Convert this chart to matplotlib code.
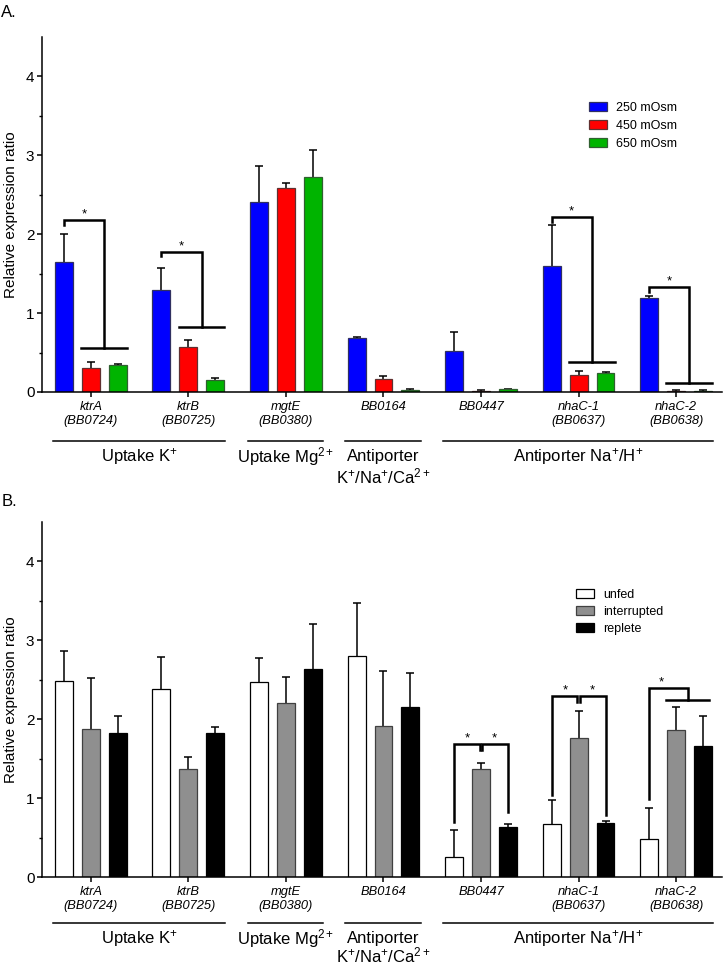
import numpy as np
import matplotlib
matplotlib.use("Agg")
import matplotlib.pyplot as plt

plt.rcParams['font.family'] = ['Liberation Sans', 'DejaVu Sans']
plt.rcParams['mathtext.fontset'] = 'custom'
plt.rcParams['mathtext.rm'] = 'Liberation Sans'
plt.rcParams['mathtext.it'] = 'Liberation Sans:italic'

NARROW = ['Liberation Sans Narrow', 'Liberation Sans', 'DejaVu Sans']

# genes on the x axis
genes = ['ktrA', 'ktrB', 'mgtE', 'BB0164', 'BB0447', 'nhaC-1', 'nhaC-2']
loci = ['(BB0724)', '(BB0725)', '(BB0380)', '', '', '(BB0637)', '(BB0638)']

# functional groups below the gene names (first gene, last gene)
group_names = ['Uptake K$^{+}$', 'Uptake Mg$^{2+}$', 'Antiporter', 'Antiporter Na$^{+}$/H$^{+}$']
group_second_line = ['', '', 'K$^{+}$/Na$^{+}$/Ca$^{2+}$', '']
group_first = [0, 2, 3, 4]
group_last = [1, 2, 3, 6]

# panel A: osmolarity
osm_labels = ['250 mOsm', '450 mOsm', '650 mOsm']
osm_250 = [1.65, 1.29, 2.41, 0.69, 0.52, 1.60, 1.19]
osm_250_err = [0.35, 0.28, 0.45, 0.01, 0.24, 0.51, 0.02]
osm_450 = [0.30, 0.57, 2.58, 0.16, 0.01, 0.21, 0.01]
osm_450_err = [0.08, 0.09, 0.07, 0.04, 0.02, 0.05, 0.01]
osm_650 = [0.34, 0.15, 2.72, 0.03, 0.04, 0.24, 0.01]
osm_650_err = [0.02, 0.03, 0.35, 0.01, 0.00, 0.01, 0.01]

# panel B: feeding state
feed_labels = ['unfed', 'interrupted', 'replete']
unfed = [2.48, 2.38, 2.47, 2.80, 0.25, 0.67, 0.48]
unfed_err = [0.38, 0.41, 0.30, 0.67, 0.35, 0.31, 0.39]
interrupted = [1.88, 1.37, 2.21, 1.91, 1.37, 1.76, 1.87]
interrupted_err = [0.64, 0.15, 0.32, 0.70, 0.08, 0.35, 0.29]
replete = [1.82, 1.83, 2.64, 2.15, 0.63, 0.69, 1.66]
replete_err = [0.22, 0.07, 0.57, 0.44, 0.04, 0.02, 0.38]

OFF = 0.276
W = 0.184
x = np.arange(len(genes))


def setup_axes(ax, y_line, y_lab, y_lab2):
    ax.set_xlim(-0.5, 6.47)
    ax.set_ylim(0, 4.5)
    ax.spines['top'].set_visible(False)
    ax.spines['right'].set_visible(False)
    ax.spines['left'].set_linewidth(1.1)
    ax.spines['bottom'].set_linewidth(1.1)
    ax.set_yticks([0, 1, 2, 3, 4])
    ax.set_yticks(np.arange(0.5, 4.5, 1.0), minor=True)
    ax.tick_params(axis='y', which='major', length=3.5, width=1.1, labelsize=11, pad=2)
    ax.tick_params(axis='y', which='minor', length=2.5, width=1.0)
    ax.set_xticks(x)
    ax.set_xticklabels([g + ('\n' + l if l else '') for g, l in zip(genes, loci)],
                       fontstyle='italic', family=NARROW, fontsize=9.3, linespacing=1.2)
    ax.tick_params(axis='x', length=3.5, width=1.1, pad=3)
    ax.set_ylabel('Relative expression ratio', fontsize=11)
    ax.yaxis.set_label_coords(-0.035, 0.5)
    tr = ax.get_xaxis_transform()
    for name, second, a, b in zip(group_names, group_second_line, group_first, group_last):
        ax.plot([a - 0.39, b + 0.38], [y_line, y_line], color='black', lw=1.1,
                transform=tr, clip_on=False)
        ax.text((a + b) / 2, y_lab, name, transform=tr, ha='center', va='center',
                fontsize=12, family=NARROW)
        if second:
            ax.text((a + b) / 2, y_lab2, second, transform=tr, ha='center', va='center',
                    fontsize=12, family=NARROW)


def bars(ax, vals, errs, colors, edges, labels):
    for i, (v, e, c, ec, lab) in enumerate(zip(vals, errs, colors, edges, labels)):
        pos = x + (i - 1) * OFF
        ax.bar(pos, v, W, color=c, edgecolor=ec, linewidth=0.9, label=lab, zorder=2)
        _, caps, _ = ax.errorbar(pos, v, yerr=[np.zeros(len(v)), e], fmt='none',
                                 ecolor='black', elinewidth=1.1, capsize=3.2,
                                 capthick=1.1, zorder=1)
        caps[0].set_visible(False)


def star(ax, xs, y):
    ax.text(xs, y, '*', ha='center', va='baseline', fontsize=9.5)


def bracket_a(ax, g, y_top, y_low):
    xl = g - OFF
    xm = g + 0.135
    ax.plot([xl, xl, xm, xm], [y_top - 0.06, y_top, y_top, y_low], color='black', lw=1.8,
            solid_joinstyle='miter')
    ax.plot([g - 0.1, g + 0.37], [y_low, y_low], color='black', lw=1.8)
    star(ax, (xl + xm) / 2, y_top + 0.03)


def bracket_pair(ax, g, y_top, y_w, y_b):
    xw, xg, xb = g - OFF, g, g + OFF
    ax.plot([xw, xw, xg - 0.012, xg - 0.012], [y_w, y_top, y_top, y_top - 0.07],
            color='black', lw=1.8, solid_joinstyle='miter')
    ax.plot([xg + 0.012, xg + 0.012, xb, xb], [y_top - 0.07, y_top, y_top, y_b],
            color='black', lw=1.8, solid_joinstyle='miter')
    star(ax, (xw + xg) / 2, y_top + 0.04)
    star(ax, (xg + xb) / 2, y_top + 0.04)


fig = plt.figure(figsize=(7.26, 9.64), dpi=100)
ax1 = fig.add_axes([0.0579, 0.5934, 0.9366, 0.3683])
ax2 = fig.add_axes([0.0579, 0.0902, 0.9366, 0.3683])

# panel A
setup_axes(ax1, -0.138, -0.183, -0.239)
bars(ax1, [osm_250, osm_450, osm_650], [osm_250_err, osm_450_err, osm_650_err],
     ['#0000FF', '#FF0000', '#00B400'], ['#303060', '#603030', '#306030'], osm_labels)
bracket_a(ax1, 0, 2.18, 0.56)
bracket_a(ax1, 1, 1.78, 0.82)
bracket_a(ax1, 5, 2.22, 0.38)
bracket_a(ax1, 6, 1.33, 0.11)
ax1.legend(loc='upper left', bbox_to_anchor=(0.804, 0.818), frameon=False, fontsize=9,
           handlelength=1.45, handleheight=0.75, handletextpad=0.75, labelspacing=0.5,
           borderpad=0, borderaxespad=0)

# panel B
setup_axes(ax2, -0.129, -0.172, -0.221)
bars(ax2, [unfed, interrupted, replete], [unfed_err, interrupted_err, replete_err],
     ['white', '#8F8F8F', 'black'], ['black', '#404040', 'black'], feed_labels)
bracket_pair(ax2, 4, 1.68, 0.70, 0.82)
bracket_pair(ax2, 5, 2.29, 1.04, 0.79)
g = 6
ax2.plot([g - OFF, g - OFF, g + 0.12, g + 0.12], [0.99, 2.40, 2.40, 2.25], color='black',
         lw=1.8, solid_joinstyle='miter')
ax2.plot([g - 0.1, g + 0.34], [2.25, 2.25], color='black', lw=1.8)
star(ax2, g - 0.15, 2.43)
ax2.legend(loc='upper left', bbox_to_anchor=(0.785, 0.812), frameon=False, fontsize=9,
           handlelength=1.45, handleheight=0.75, handletextpad=0.75, labelspacing=0.4,
           borderpad=0, borderaxespad=0)

fig.text(0.002, 0.987, 'A.', fontsize=12, va='center', ha='left')
fig.text(0.002, 0.480, 'B.', fontsize=12, va='center', ha='left')

fig.savefig('out.png', dpi=100)
